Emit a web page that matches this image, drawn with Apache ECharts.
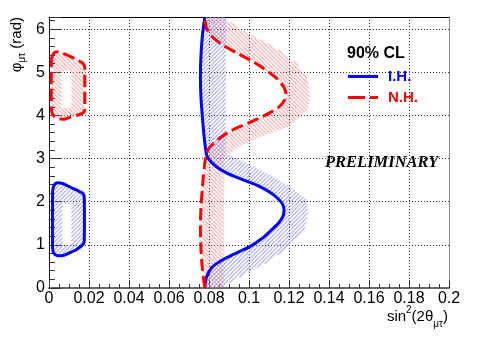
<!DOCTYPE html>
<html>
<head>
<meta charset="utf-8">
<script src="https://cdn.jsdelivr.net/npm/echarts@6/dist/echarts.min.js"></script>
<style>html,body{margin:0;padding:0;background:#fff}#c{width:498px;height:339px}</style>
</head>
<body>
<div id="c"></div>
<script>
// ---- axis ranges / ticks ----
const xRange = [0, 0.2];
const xStep = 0.02;
const yRange = [0, 2 * Math.PI];
const yStep = 1;

// ---- I.H. (blue, solid) 90% CL contours: [sin^2(2θμτ), φμτ] ----
const ihMain = [
  [0.0779, 0.00], [0.0787, 0.25], [0.0815, 0.48], [0.0860, 0.63], [0.0904, 0.74],
  [0.0960, 0.86], [0.1004, 0.96], [0.1060, 1.13], [0.1104, 1.31], [0.1150, 1.52],
  [0.1170, 1.66], [0.1175, 1.80], [0.1168, 1.94], [0.1145, 2.07], [0.1110, 2.20],
  [0.1050, 2.36], [0.0987, 2.48], [0.0930, 2.58], [0.0887, 2.67], [0.0845, 2.78],
  [0.0815, 2.90], [0.0797, 3.00], [0.0787, 3.10], [0.0777, 3.45], [0.0768, 3.90],
  [0.0760, 4.40], [0.0757, 4.90], [0.0760, 5.40], [0.0767, 5.85], [0.0779, 6.283]
];
const ihSmall = [
  [0.0018, 2.25], [0.0025, 2.38], [0.0045, 2.44], [0.0070, 2.42], [0.0110, 2.33],
  [0.0150, 2.24], [0.0170, 2.19], [0.0176, 2.10], [0.0177, 1.60], [0.0176, 1.08],
  [0.0168, 1.00], [0.0140, 0.90], [0.0100, 0.81], [0.0065, 0.75], [0.0042, 0.75],
  [0.0025, 0.80], [0.0018, 0.92], [0.0017, 1.60], [0.0018, 2.25]
];
// hatched-band outer edges (I.H.)
const ihLowerOuter = [
  [0.0870, 0.00], [0.0904, 0.12], [0.0987, 0.35], [0.1087, 0.58], [0.1204, 0.97],
  [0.1279, 1.35], [0.1295, 1.74], [0.1287, 2.05], [0.1204, 2.36], [0.1087, 2.67],
  [0.0987, 2.90], [0.0895, 3.10]
];
const ihUpperOuter = [[0.0885, 3.10], [0.0885, 6.283]];
const ihSmallHole = [[0.0068, 1.95], [0.0068, 1.00], [0.0112, 1.00], [0.0112, 1.95], [0.0068, 1.95]];

// ---- N.H. (red, dashed) 90% CL contours ----
const nhMain = [
  [0.0779, 0.00], [0.0767, 0.43], [0.0760, 0.88], [0.0757, 1.38], [0.0760, 1.88],
  [0.0768, 2.38], [0.0777, 2.83], [0.0787, 3.10], [0.0800, 3.25], [0.0830, 3.38],
  [0.0854, 3.48], [0.0920, 3.67], [0.1004, 3.84], [0.1087, 4.02], [0.1150, 4.20],
  [0.1177, 4.35], [0.1185, 4.50], [0.1175, 4.65], [0.1140, 4.85], [0.1100, 5.00],
  [0.1037, 5.20], [0.0954, 5.41], [0.0870, 5.63], [0.0815, 5.83], [0.0787, 6.03],
  [0.0779, 6.283]
];
const nhSmall = [
  [0.0012, 5.30], [0.0020, 5.42], [0.0037, 5.48], [0.0060, 5.46], [0.0100, 5.38],
  [0.0145, 5.28], [0.0172, 5.20], [0.0179, 5.10], [0.0179, 4.60], [0.0179, 4.15],
  [0.0170, 4.06], [0.0145, 4.01], [0.0100, 3.95], [0.0070, 3.91], [0.0045, 3.93],
  [0.0025, 3.98], [0.0013, 4.10], [0.0011, 4.70], [0.0012, 5.30]
];
const nhUpperOuter = [
  [0.0887, 3.05], [0.0954, 3.29], [0.1070, 3.52], [0.1200, 3.75], [0.1295, 4.14],
  [0.1304, 4.45], [0.1295, 4.83], [0.1237, 5.22], [0.1120, 5.61], [0.0987, 5.92],
  [0.0870, 6.283]
];
const nhLowerOuter = [[0.0875, 0.00], [0.0875, 3.05]];
const nhSmallHole = [[0.0063, 5.03], [0.0063, 4.18], [0.0112, 4.18], [0.0112, 5.03], [0.0063, 5.03]];

// ---- texts ----
const legendTitle = '90% CL';
const nameIH = 'I.H.';
const nameNH = 'N.H.';
const stamp = 'PRELIMINARY';

// ---- build hatched band polygons from the arrays ----
const lower = (c) => c.filter(p => p[1] <= 3.10);
const upper = (c) => c.filter(p => p[1] >= 3.10);
const rev = (a) => a.slice().reverse();
const blueBands = [
  lower(ihMain).concat(rev(ihLowerOuter)),
  upper(ihMain).concat(rev(ihUpperOuter)),
  ihSmall.concat(ihSmallHole)
];
const redBands = [
  lower(nhMain).concat(rev(nhLowerOuter)),
  upper(nhMain).concat(rev(nhUpperOuter)),
  nhSmall.concat(nhSmallHole)
];

// hatch = diagonal strokes cut to the band polygon (even-odd), in pixel space
function hatchSegments(pts, dir, s) {
  let x0 = Infinity, x1 = -Infinity, y0 = Infinity, y1 = -Infinity;
  pts.forEach(p => { x0 = Math.min(x0, p[0]); x1 = Math.max(x1, p[0]); y0 = Math.min(y0, p[1]); y1 = Math.max(y1, p[1]); });
  const segs = [];
  const f = (p, c) => (dir > 0 ? p[0] + p[1] : p[0] - p[1]) - c;
  const cMin = dir > 0 ? x0 + y0 : x0 - y1;
  const cMax = dir > 0 ? x1 + y1 : x1 - y0;
  const n = pts.length;
  for (let c = Math.floor(cMin / s) * s + 0.5; c <= cMax; c += s) {
    const ys = [];
    for (let i = 0; i < n; i++) {
      const p = pts[i], q = pts[(i + 1) % n];
      const fp = f(p, c), fq = f(q, c);
      if ((fp > 0) !== (fq > 0)) {
        const t = fp / (fp - fq);
        ys.push(p[1] + t * (q[1] - p[1]));
      }
    }
    ys.sort((a, b) => a - b);
    for (let k = 0; k + 1 < ys.length; k += 2) {
      const ya = ys[k], yb = ys[k + 1];
      if (yb - ya < 0.01) continue;
      const xa = dir > 0 ? c - ya : c + ya;
      const xb = dir > 0 ? c - yb : c + yb;
      segs.push([xa, ya, xb, yb]);
    }
  }
  return segs;
}

function bandSeries(polys, dir, color) {
  return {
    type: 'custom',
    silent: true,
    z: 2,
    itemStyle: { color: color },
    data: polys.map(p => p[0]),
    renderItem: function (params, api) {
      const pts = polys[params.dataIndex].map(p => api.coord(p));
      return {
        type: 'group',
        children: hatchSegments(pts, dir, 4).map(sg => ({
          type: 'line', silent: true,
          shape: { x1: sg[0], y1: sg[1], x2: sg[2], y2: sg[3] },
          style: { stroke: color, lineWidth: 1, fill: null }
        }))
      };
    }
  };
}

const FONT = 'Liberation Sans';
const chart = echarts.init(document.getElementById('c'), null, { renderer: 'canvas' });
chart.setOption({
  animation: false,
  backgroundColor: '#fff',
  grid: { left: 49, right: 49, top: 17, bottom: 51, outerBoundsMode: 'none', containLabel: false },
  xAxis: [{
    type: 'value', min: xRange[0], max: xRange[1], interval: xStep,
    axisLine: { show: true, onZero: false, lineStyle: { color: '#666', width: 2 } },
    axisTick: { show: true, inside: true, length: 8, lineStyle: { color: '#333' } },
    minorTick: { show: true, splitNumber: 4, length: 4, lineStyle: { color: '#333' } },
    splitLine: { show: true, lineStyle: { color: '#333', type: [1, 2], width: 1 } },
    axisLabel: { fontFamily: FONT, fontSize: 16, color: '#000', margin: 3,
      formatter: v => String(+v.toFixed(2)) }
  }, {
    type: 'value', position: 'top', min: xRange[0], max: xRange[1],
    axisLine: { show: true, onZero: false, lineStyle: { color: '#000', width: 1 } },
    axisTick: { show: false }, axisLabel: { show: false }, splitLine: { show: false }
  }],
  yAxis: [{
    type: 'value', min: yRange[0], max: yRange[1], interval: yStep,
    axisLine: { show: true, onZero: false, lineStyle: { color: '#111', width: 1 } },
    axisTick: { show: true, inside: true, length: 12, lineStyle: { color: '#333' } },
    minorTick: { show: true, splitNumber: 5, length: 6, lineStyle: { color: '#333' } },
    splitLine: { show: true, lineStyle: { color: '#333', type: [1, 2], width: 1 } },
    axisLabel: { fontFamily: FONT, fontSize: 16, color: '#000', margin: 4,
      showMaxLabel: false,
      formatter: v => Math.abs(v - Math.round(v)) < 1e-6 ? String(Math.round(v)) : '' }
  }, {
    type: 'value', position: 'right', min: yRange[0], max: yRange[1],
    axisLine: { show: true, onZero: false, lineStyle: { color: '#888', width: 1 } },
    axisTick: { show: false }, axisLabel: { show: false }, splitLine: { show: false }
  }],
  legend: {
    orient: 'vertical', left: 343, top: 64, itemWidth: 30, itemHeight: 3, itemGap: 6,
    selectedMode: false,
    textStyle: { fontFamily: FONT, fontSize: 15, fontWeight: 'bold', padding: [0, 0, 0, 5] },
    data: [
      { name: nameIH, icon: 'rect', textStyle: { color: '#0000ff' } },
      { name: nameNH, icon: 'path://M0,0h17v3h-17zM22,0h8v3h-8z', textStyle: { color: '#ff0000' } }
    ]
  },
  graphic: [
    { type: 'text', x: 347, y: 54, style: { text: legendTitle, fontFamily: FONT, fontSize: 16,
      fontWeight: 'bold', fill: '#000', verticalAlign: 'middle' } },
    { type: 'text', x: 325, y: 163, style: { text: stamp, fontFamily: 'Liberation Serif',
      fontSize: 16.5, fontWeight: 'bold', fontStyle: 'italic', fill: '#000', verticalAlign: 'middle' } },
    { type: 'text', x: 448, y: 317, style: {
      text: '{n|sin}{p|2}{n|(2θ}{s|μτ}{n|)}', align: 'right', verticalAlign: 'middle',
      rich: {
        n: { fontFamily: FONT, fontSize: 15, lineHeight: 24, verticalAlign: 'middle', fill: '#000' },
        p: { fontFamily: FONT, fontSize: 10, lineHeight: 10, verticalAlign: 'top', fill: '#000' },
        s: { fontFamily: FONT, fontSize: 10, lineHeight: 10, verticalAlign: 'bottom', fill: '#000' }
      } } },
    { type: 'text', x: 17, y: 17, rotation: Math.PI / 2, style: {
      text: '{n|φ}{s|μτ}{n| (rad)}', align: 'right', verticalAlign: 'middle',
      rich: {
        n: { fontFamily: FONT, fontSize: 15, lineHeight: 20, verticalAlign: 'middle', fill: '#000' },
        s: { fontFamily: FONT, fontSize: 10, lineHeight: 10, verticalAlign: 'bottom', fill: '#000' }
      } } }
  ],
  series: [
    bandSeries(redBands, -1, '#ff8080'),
    bandSeries(blueBands, 1, '#8080ff'),
    { type: 'line', name: nameIH, data: ihMain, symbol: 'none', smooth: 0.3, z: 4,
      lineStyle: { color: '#0000ff', width: 3 }, itemStyle: { color: '#0000ff' } },
    { type: 'line', name: nameIH, data: ihSmall, symbol: 'none', smooth: 0.3, z: 4,
      lineStyle: { color: '#0000ff', width: 3 }, itemStyle: { color: '#0000ff' } },
    { type: 'line', name: nameNH, data: nhMain, symbol: 'none', smooth: 0.3, z: 4,
      lineStyle: { color: '#ff0000', width: 3, type: [12, 5] }, itemStyle: { color: '#ff0000' } },
    { type: 'line', name: nameNH, data: nhSmall, symbol: 'none', smooth: 0.3, z: 4,
      lineStyle: { color: '#ff0000', width: 3, type: [12, 5] }, itemStyle: { color: '#ff0000' } }
  ]
});
</script>
</body>
</html>
